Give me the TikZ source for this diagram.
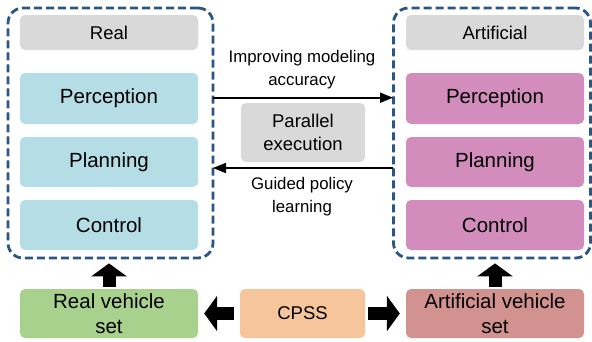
\documentclass[tikz,border=0pt]{standalone}
\usepackage{fontspec}
\setmainfont{Liberation Sans}
\usetikzlibrary{arrows.meta}

\definecolor{grpblue}{HTML}{2B5582}
\definecolor{hdrgray}{HTML}{D9D9D9}
\definecolor{realblue}{HTML}{B4DDE5}
\definecolor{artpink}{HTML}{D38DBD}
\definecolor{rvgreen}{HTML}{A9D18E}
\definecolor{cpsspeach}{HTML}{F6C59C}
\definecolor{avrose}{HTML}{D2928F}

\tikzset{
  modbox/.style={rounded corners=5, minimum width=178, minimum height=50,
    font=\fontsize{20.5}{25}\selectfont, align=center, inner sep=0},
  hdrbox/.style={modbox, fill=hdrgray, minimum height=35, font=\fontsize{18.5}{20}\selectfont},
  grpbox/.style={draw=grpblue, line width=2.8, dash pattern=on 8 off 4,
    rounded corners=15, minimum width=205, minimum height=250, inner sep=0},
  blockarr/.style={line width=13, -{Triangle[width=35,length=13]}},
  thinarr/.style={line width=2, -{Triangle[width=10,length=13]}},
  lbl/.style={font=\fontsize{16.8}{23}\selectfont, align=center, text=black}
}

\begin{document}
\begin{tikzpicture}[x=1pt,y=-1pt]
    \useasboundingbox (0,0) rectangle (592,341);

    % Gruppi tratteggiati
    \node[grpbox] (realgrp) at (110.5,133) {};
    \node[grpbox, minimum width=197] (artgrp) at (492,133) {};

    % Colonna reale
    \node[hdrbox] (rhdr) at (109,32.5) {Real};
    \node[modbox, fill=realblue, minimum height=51] (rperc) at (109,98.5) {Perception};
    \node[modbox, fill=realblue] (rplan) at (109,162) {Planning};
    \node[modbox, fill=realblue] (rctrl) at (109,225) {Control};

    % Colonna artificiale
    \node[hdrbox] (ahdr) at (495,32.5) {Artificial};
    \node[modbox, fill=artpink, minimum height=51] (aperc) at (495,98.5) {Perception};
    \node[modbox, fill=artpink] (aplan) at (495,162) {Planning};
    \node[modbox, fill=artpink] (actrl) at (495,225) {Control};

    % Esecuzione parallela
    \node[modbox, fill=hdrgray, minimum width=124, minimum height=59,
      font=\fontsize{18.5}{23}\selectfont] (par) at (303,132.5) {Parallel\\execution};
    \coordinate (topl) at (213,97.7);
    \coordinate (topr) at (393,97.7);
    \coordinate (botl) at (213,168);
    \coordinate (botr) at (393,168);
    \draw[thinarr] (topl) -- (topr);
    \draw[thinarr] (botr) -- (botl);
    \node[lbl] (improve) at (302,69.5) {Improving modeling\\accuracy};
    \node[lbl] (guided) at (302,197) {Guided policy\\learning};

    % Riga in basso
    \node[modbox, fill=rvgreen, minimum height=49] (rvset) at (109,313.5) {Real vehicle\\set};
    \node[modbox, fill=cpsspeach, minimum width=125, minimum height=49,
      font=\fontsize{18.5}{22}\selectfont] (cpss) at (302.5,313.5) {CPSS};
    \node[modbox, fill=avrose, minimum height=49] (avset) at (495,313.5) {Artificial vehicle\\set};

    % Frecce piene
    \draw[blockarr, shorten <=2, shorten >=4] (rvset.north) -- (rhdr.center |- realgrp.south);
    \draw[blockarr, shorten <=2, shorten >=4] (avset.north) -- (ahdr.center |- artgrp.south);
    \draw[blockarr, shorten <=6, shorten >=6] (cpss.west) -- (rvset.east);
    \draw[blockarr, shorten <=3, shorten >=6] (cpss.east) -- (avset.west);
\end{tikzpicture}
\end{document}
